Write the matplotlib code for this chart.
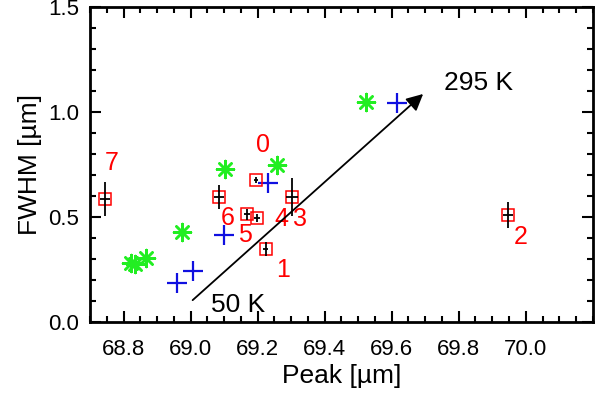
import matplotlib
matplotlib.use('Agg')
import matplotlib.pyplot as plt
from matplotlib.ticker import MultipleLocator

plt.rcParams['font.family'] = ['Liberation Sans', 'DejaVu Sans']

# red squares with error bars
sq_x = [68.745, 69.085, 69.195, 69.168, 69.198, 69.304, 69.224, 69.947]
sq_y = [0.586, 0.595, 0.676, 0.514, 0.495, 0.595, 0.348, 0.51]
sq_xerr = [0.015, 0.015, 0.005, 0.008, 0.008, 0.018, 0.008, 0.016]
sq_yerr = [0.081, 0.057, 0.014, 0.026, 0.02, 0.09, 0.033, 0.06]

# red number labels
lab_text = ['7', '0', '6', '5', '4', '3', '1', '2']
lab_x = [68.765, 69.216, 69.112, 69.162, 69.272, 69.325, 69.275, 69.985]
lab_y = [0.757, 0.843, 0.495, 0.414, 0.49, 0.49, 0.248, 0.405]

# blue crosses
blue_x = [68.961, 69.008, 69.10, 69.23, 69.616]
blue_y = [0.186, 0.243, 0.414, 0.662, 1.043]

# green asterisks
green_x = [68.821, 68.833, 68.866, 68.973, 69.103, 69.257, 69.524]
green_y = [0.281, 0.276, 0.305, 0.429, 0.729, 0.748, 1.048]

fig = plt.figure(figsize=(6, 3.96), dpi=100)
ax = fig.add_axes([0.15, 0.187, 0.838, 0.795])

ax.scatter(green_x, green_y, marker=(8, 2, 0), s=150, color='#22ee22', linewidths=1.8, zorder=3)
ax.scatter(blue_x, blue_y, marker='+', s=190, color='#1010e0', linewidths=1.6, zorder=3)
ax.plot(sq_x, sq_y, 's', ms=8.5, mfc='none', mec='red', mew=1.1, zorder=4)
ax.errorbar(sq_x, sq_y, xerr=sq_xerr, yerr=sq_yerr, fmt='none', ecolor='black',
            elinewidth=1.3, capsize=0, zorder=5)

for t, x, y in zip(lab_text, lab_x, lab_y):
    ax.text(x, y, t, color='red', fontsize=18, ha='center', va='center')

# temperature arrow
ax.annotate('', xy=(69.70, 1.095), xytext=(69.0, 0.095),
            arrowprops=dict(arrowstyle='-|>', color='black', lw=1.3, mutation_scale=25))
ax.text(69.06, 0.08, '50 K', fontsize=19, ha='left', va='center')
ax.text(69.755, 1.138, '295 K', fontsize=19, ha='left', va='center')

ax.set_xlim(68.7, 70.2)
ax.set_ylim(0, 1.5)
ax.set_xticks([68.8, 69.0, 69.2, 69.4, 69.6, 69.8, 70.0])
ax.set_yticks([0.0, 0.5, 1.0, 1.5])
ax.xaxis.set_minor_locator(MultipleLocator(0.05))
ax.yaxis.set_minor_locator(MultipleLocator(0.1))
ax.tick_params(which='both', direction='in', top=True, right=True, width=1.5, labelsize=16)
ax.tick_params(which='major', length=8, pad=8)
ax.tick_params(axis='x', which='major', pad=12)
ax.tick_params(which='minor', length=4)
for s in ax.spines.values():
    s.set_linewidth(2)

ax.set_xlabel('Peak [µm]', fontsize=19, labelpad=3)
ax.set_ylabel('FWHM [µm]', fontsize=19, labelpad=4)

fig.savefig('out.png', dpi=100)
